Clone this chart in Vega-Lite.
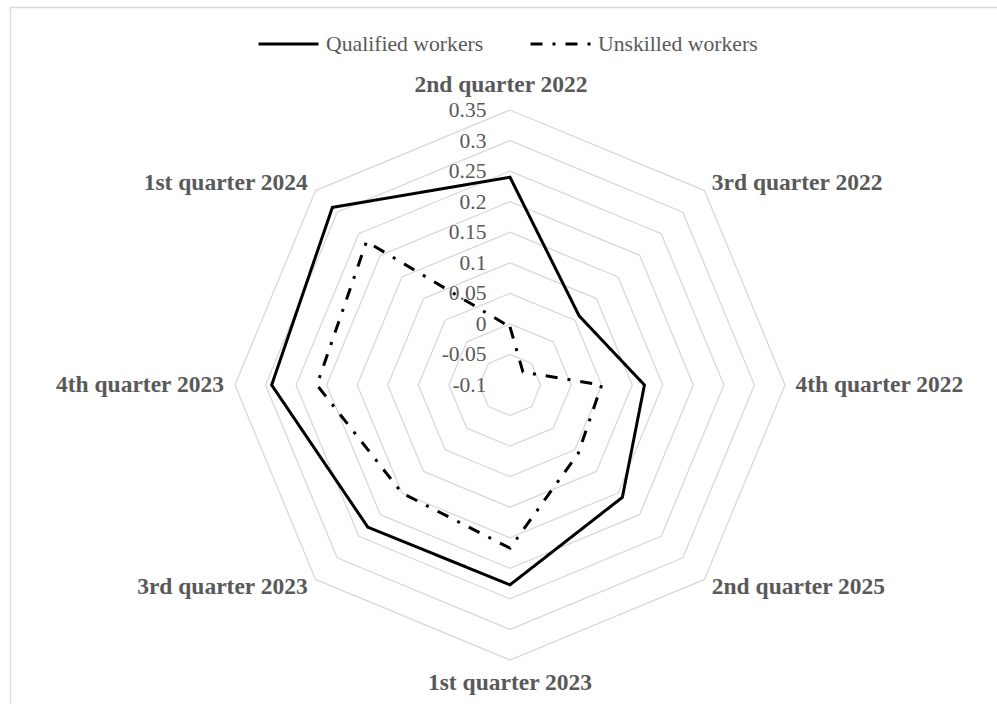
{
  "$schema": "https://vega.github.io/schema/vega-lite/v6.json",
  "width": 987,
  "height": 697,
  "autosize": {"type": "none"},
  "padding": {"left": 10, "top": 7, "right": 0, "bottom": 0},
  "background": "white",
  "config": {
    "view": {"stroke": null},
    "font": "Liberation Serif",
    "axis": {"domain": true, "domainColor": "#d9d9d9", "domainWidth": 1.3, "labels": false, "ticks": false, "grid": false, "title": null},
    "legend": {"padding": 0}
  },
  "datasets": {
    "radar": [
      {"quarter": "2nd quarter 2022", "k": 0, "Qualified workers": 0.240, "Unskilled workers": -0.005},
      {"quarter": "3rd quarter 2022", "k": 1, "Qualified workers": 0.060, "Unskilled workers": -0.070},
      {"quarter": "4th quarter 2022", "k": 2, "Qualified workers": 0.120, "Unskilled workers": 0.050},
      {"quarter": "2nd quarter 2025", "k": 3, "Qualified workers": 0.160, "Unskilled workers": 0.058},
      {"quarter": "1st quarter 2023", "k": 4, "Qualified workers": 0.227, "Unskilled workers": 0.167},
      {"quarter": "3rd quarter 2023", "k": 5, "Qualified workers": 0.229, "Unskilled workers": 0.150},
      {"quarter": "4th quarter 2023", "k": 6, "Qualified workers": 0.290, "Unskilled workers": 0.216},
      {"quarter": "1st quarter 2024", "k": 7, "Qualified workers": 0.311, "Unskilled workers": 0.232}
    ],
    "rings": [
      {"g": -0.05, "k": [0, 1, 2, 3, 4, 5, 6, 7]},
      {"g": 0, "k": [0, 1, 2, 3, 4, 5, 6, 7]},
      {"g": 0.05, "k": [0, 1, 2, 3, 4, 5, 6, 7]},
      {"g": 0.1, "k": [0, 1, 2, 3, 4, 5, 6, 7]},
      {"g": 0.15, "k": [0, 1, 2, 3, 4, 5, 6, 7]},
      {"g": 0.2, "k": [0, 1, 2, 3, 4, 5, 6, 7]},
      {"g": 0.25, "k": [0, 1, 2, 3, 4, 5, 6, 7]},
      {"g": 0.3, "k": [0, 1, 2, 3, 4, 5, 6, 7]},
      {"g": 0.35, "k": [0, 1, 2, 3, 4, 5, 6, 7]}
    ],
    "ticks": [
      {"v": -0.1, "label": "-0.1"},
      {"v": -0.05, "label": "-0.05"},
      {"v": 0, "label": "0"},
      {"v": 0.05, "label": "0.05"},
      {"v": 0.1, "label": "0.1"},
      {"v": 0.15, "label": "0.15"},
      {"v": 0.2, "label": "0.2"},
      {"v": 0.25, "label": "0.25"},
      {"v": 0.3, "label": "0.3"},
      {"v": 0.35, "label": "0.35"}
    ]
  },
  "layer": [
    {
      "data": {"name": "rings"},
      "transform": [
        {"flatten": ["k"]},
        {"calculate": "datum.g + 0.1", "as": "r"},
        {"calculate": "datum.r * sin(datum.k * PI / 4)", "as": "x"},
        {"calculate": "datum.r * cos(datum.k * PI / 4)", "as": "y"}
      ],
      "mark": {"type": "line", "interpolate": "linear-closed", "color": "#d9d9d9", "strokeWidth": 1.3},
      "encoding": {
        "x": {"field": "x", "type": "quantitative", "scale": {"domain": [-0.81818, 0.79691], "nice": false, "zero": false}, "axis": {"orient": "top"}},
        "y": {"field": "y", "type": "quantitative", "scale": {"domain": [-0.522, 0.61855], "nice": false, "zero": false}, "axis": {"orient": "left"}},
        "detail": {"field": "g", "type": "nominal"},
        "order": {"field": "k", "type": "quantitative"}
      }
    },
    {
      "data": {"name": "radar"},
      "transform": [
        {"fold": ["Qualified workers", "Unskilled workers"], "as": ["series", "value"]},
        {"calculate": "datum.value + 0.1", "as": "r"},
        {"calculate": "datum.r * sin(datum.k * PI / 4)", "as": "x"},
        {"calculate": "datum.r * cos(datum.k * PI / 4)", "as": "y"}
      ],
      "mark": {"type": "line", "interpolate": "linear-closed", "strokeWidth": 3, "strokeCap": "butt"},
      "encoding": {
        "x": {"field": "x", "type": "quantitative", "scale": {"domain": [-0.81818, 0.79691], "nice": false, "zero": false}},
        "y": {"field": "y", "type": "quantitative", "scale": {"domain": [-0.522, 0.61855], "nice": false, "zero": false}},
        "order": {"field": "k", "type": "quantitative"},
        "color": {
          "field": "series", "type": "nominal",
          "scale": {"domain": ["Qualified workers", "Unskilled workers"], "range": ["#000000", "#000000"]},
          "legend": {"orient": "none", "legendX": 247, "legendY": 5, "direction": "horizontal", "title": null, "symbolType": "stroke", "symbolSize": 3600, "symbolStrokeWidth": 3, "labelFont": "Liberation Serif", "labelFontSize": 21.7, "labelColor": "#595959", "labelOffset": 6, "columnPadding": 40}
        },
        "strokeDash": {
          "field": "series", "type": "nominal",
          "scale": {"domain": ["Qualified workers", "Unskilled workers"], "range": [[1, 0], [12, 10, 3, 10]]},
          "legend": {"orient": "none", "legendX": 247, "legendY": 5, "direction": "horizontal", "title": null, "symbolType": "stroke", "symbolSize": 3600, "symbolStrokeWidth": 3, "labelFont": "Liberation Serif", "labelFontSize": 21.7, "labelColor": "#595959", "labelOffset": 6, "columnPadding": 40}
        }
      }
    },
    {
      "data": {"name": "ticks"},
      "transform": [{"calculate": "datum.v + 0.1", "as": "r"}],
      "mark": {"type": "text", "align": "right", "baseline": "middle", "dx": -23.5, "dy": 1, "fontSize": 21.5, "color": "#595959", "font": "Liberation Serif"},
      "encoding": {
        "x": {"datum": 0, "type": "quantitative"},
        "y": {"field": "r", "type": "quantitative"},
        "text": {"field": "label"}
      }
    },
    {
      "data": {"name": "radar"},
      "transform": [
        {"filter": "datum.k >= 1 && datum.k <= 3"},
        {"calculate": "0.467 * sin(datum.k * PI / 4)", "as": "x"},
        {"calculate": "0.467 * cos(datum.k * PI / 4)", "as": "y"}
      ],
      "mark": {"type": "text", "align": "left", "baseline": "middle", "fontSize": 23.5, "fontWeight": "bold", "color": "#595959", "font": "Liberation Serif"},
      "encoding": {
        "x": {"field": "x", "type": "quantitative"},
        "y": {"field": "y", "type": "quantitative"},
        "text": {"field": "quarter"}
      }
    },
    {
      "data": {"name": "radar"},
      "transform": [
        {"filter": "datum.k >= 5"},
        {"calculate": "0.468 * sin(datum.k * PI / 4)", "as": "x"},
        {"calculate": "0.468 * cos(datum.k * PI / 4)", "as": "y"}
      ],
      "mark": {"type": "text", "align": "right", "baseline": "middle", "fontSize": 23.5, "fontWeight": "bold", "color": "#595959", "font": "Liberation Serif"},
      "encoding": {
        "x": {"field": "x", "type": "quantitative"},
        "y": {"field": "y", "type": "quantitative"},
        "text": {"field": "quarter"}
      }
    },
    {
      "data": {"name": "radar"},
      "transform": [
        {"filter": "datum.k == 0"},
        {"calculate": "0.491", "as": "y"}
      ],
      "mark": {"type": "text", "align": "center", "baseline": "middle", "dx": -9, "fontSize": 23.5, "fontWeight": "bold", "color": "#595959", "font": "Liberation Serif"},
      "encoding": {
        "x": {"datum": 0, "type": "quantitative"},
        "y": {"field": "y", "type": "quantitative"},
        "text": {"field": "quarter"}
      }
    },
    {
      "data": {"name": "radar"},
      "transform": [
        {"filter": "datum.k == 4"},
        {"calculate": "-0.4876", "as": "y"}
      ],
      "mark": {"type": "text", "align": "center", "baseline": "middle", "fontSize": 23.5, "fontWeight": "bold", "color": "#595959", "font": "Liberation Serif"},
      "encoding": {
        "x": {"datum": 0, "type": "quantitative"},
        "y": {"field": "y", "type": "quantitative"},
        "text": {"field": "quarter"}
      }
    }
  ]
}
